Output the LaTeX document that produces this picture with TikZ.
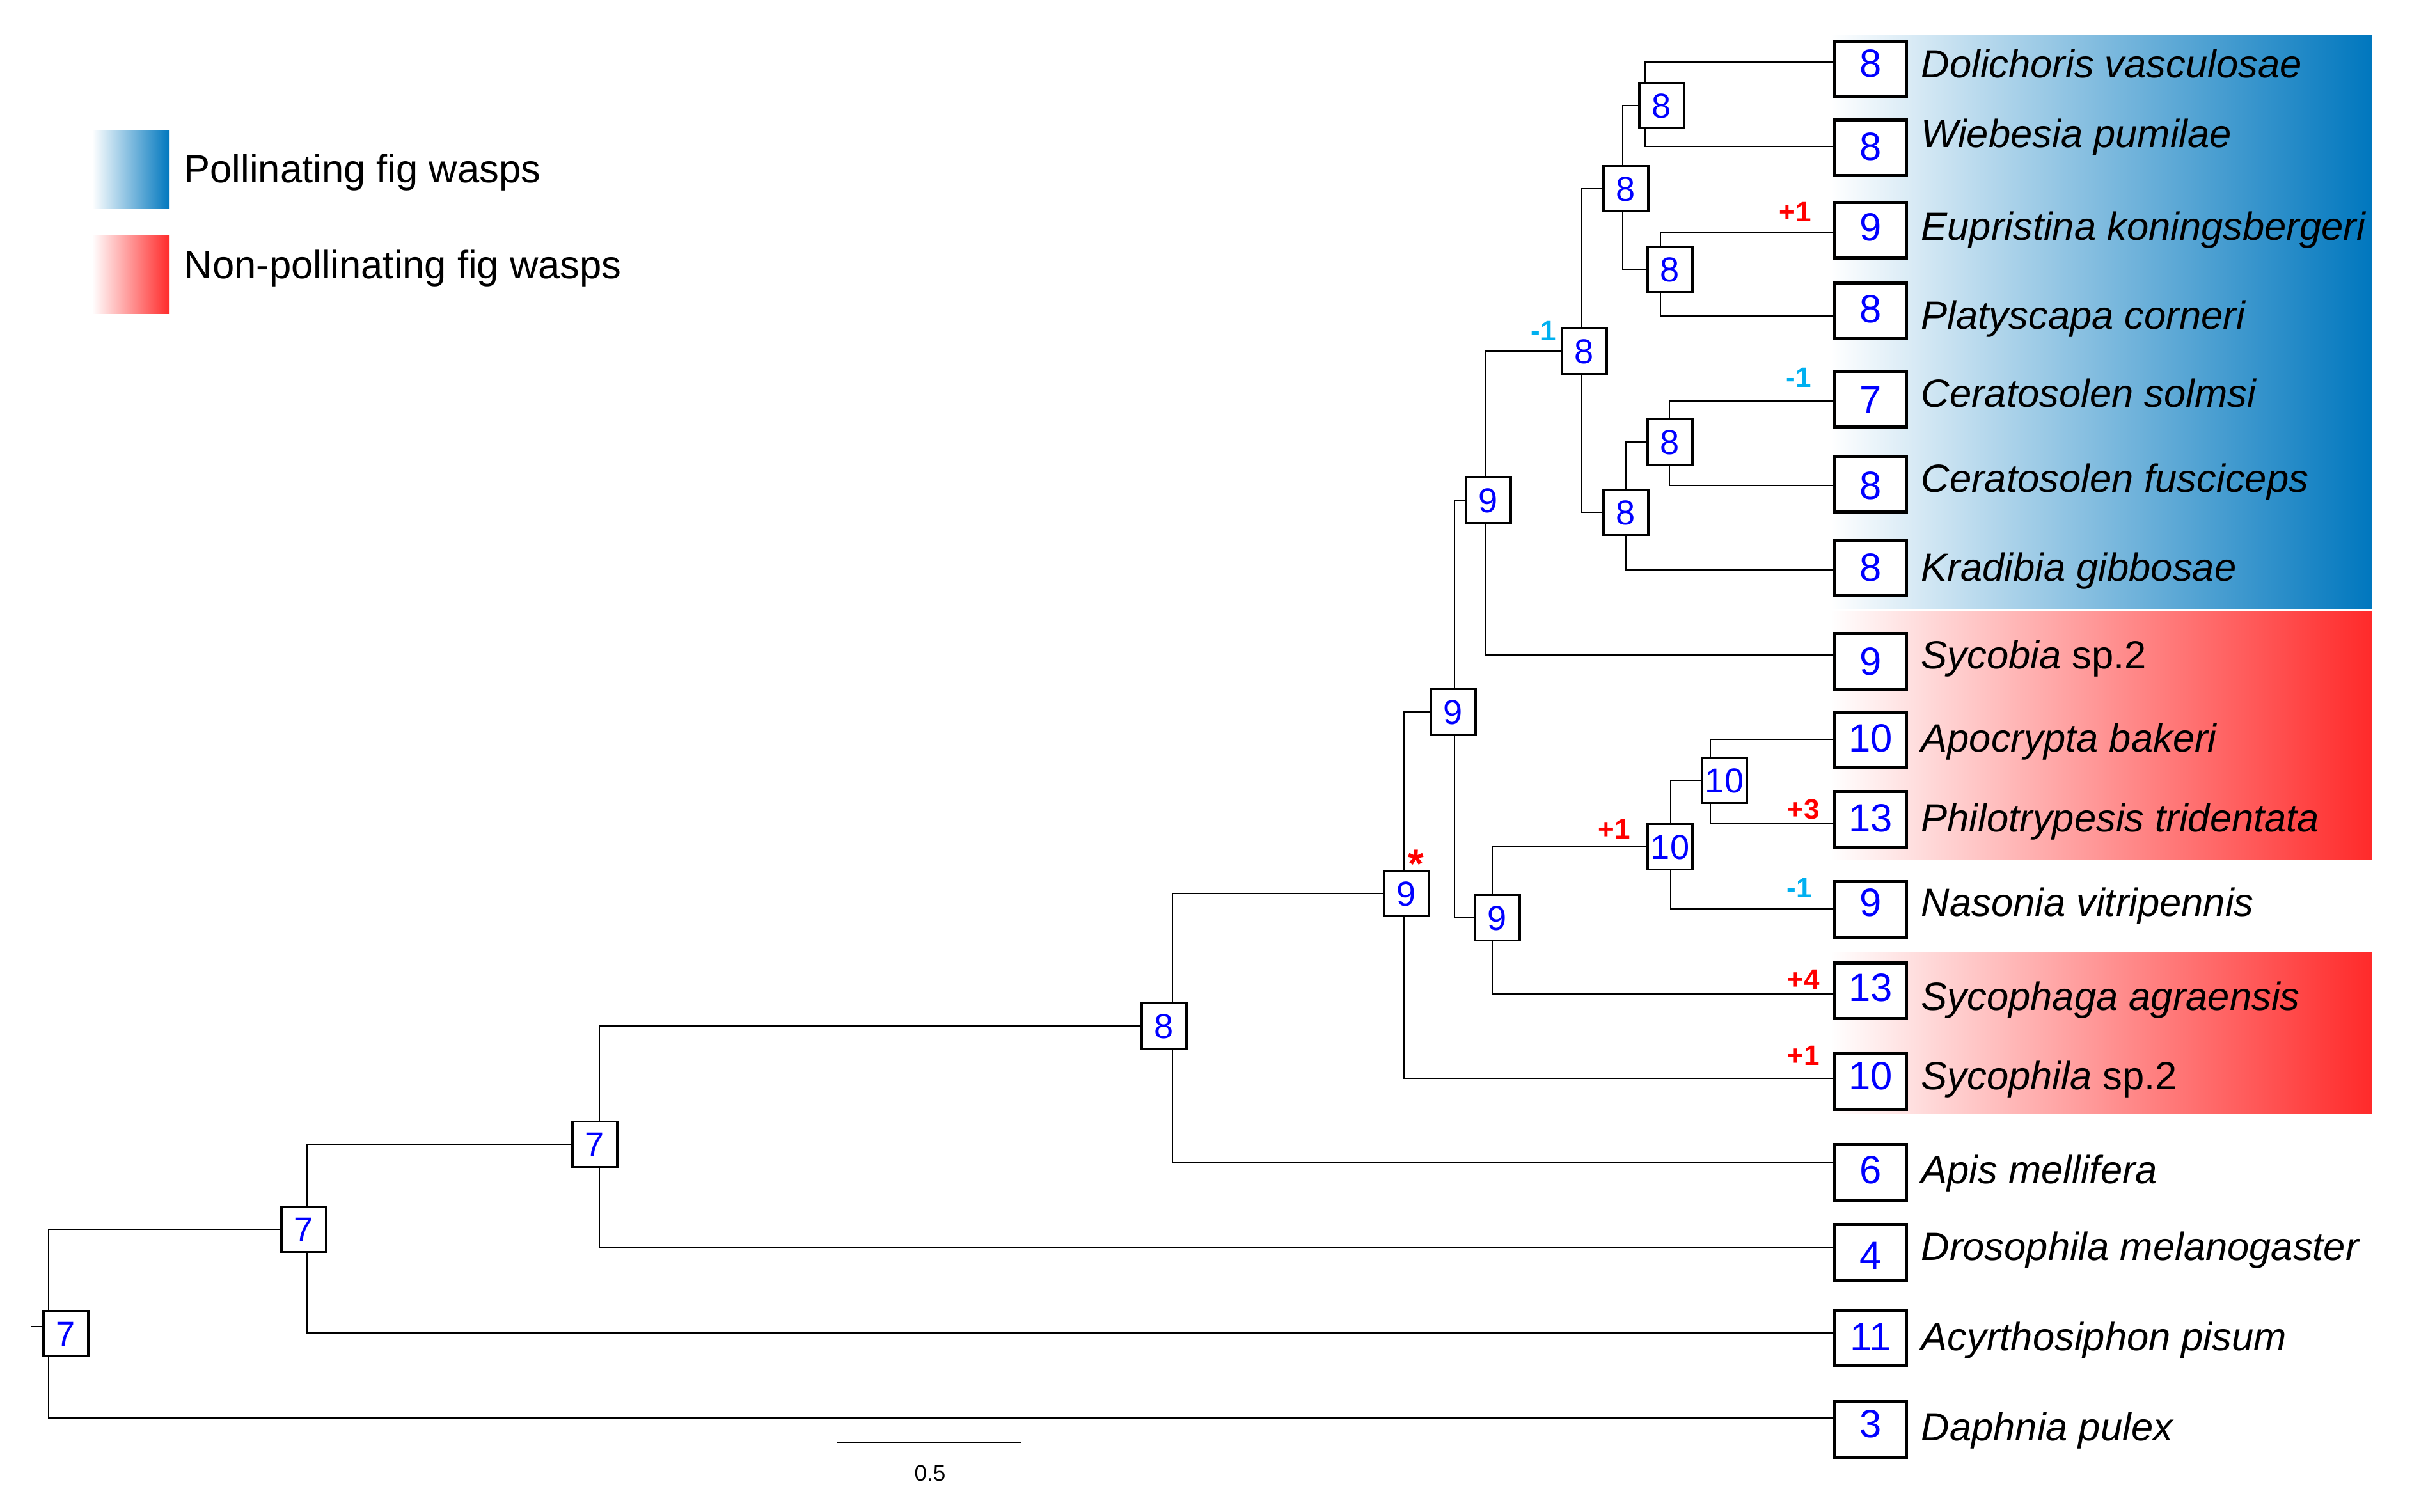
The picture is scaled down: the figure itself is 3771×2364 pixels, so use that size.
\documentclass[tikz,border=0pt]{standalone}
\usepackage{fontspec}
\setmainfont{Liberation Sans}
\pgfdeclarelayer{bands}
\pgfdeclarelayer{edges}
\pgfsetlayers{bands,edges,main}
\definecolor{figblue}{RGB}{0,119,190}
\definecolor{figred}{RGB}{255,42,42}
\definecolor{gaincol}{RGB}{255,0,0}
\definecolor{losscol}{RGB}{0,176,240}
\definecolor{numcol}{RGB}{0,0,255}
\begin{document}
\begin{tikzpicture}[x=0.01cm,y=-0.01cm,
  edge/.style={line width=0.75pt, black},
  inbox/.style={draw, line width=1pt, fill=white, minimum width=0.70cm, minimum height=0.71cm, inner sep=0pt, text=numcol, font=\fontsize{15.4}{16}\selectfont, text height=0.39cm, text depth=0cm},
  leafbox/.style={draw, line width=1.3pt, fill=white, minimum width=1.13cm, minimum height=0.87cm, inner sep=0pt, text=numcol, font=\fontsize{17.5}{18}\selectfont, text depth=0cm},
  taxon/.style={anchor=base west, inner sep=0pt, font=\fontsize{17.5}{18}\selectfont\itshape},
  gain/.style={anchor=base, inner sep=0pt, text=gaincol, font=\fontsize{12.5}{13}\selectfont\bfseries},
  loss/.style={gain, text=losscol},
  legtext/.style={anchor=base west, inner sep=0pt, font=\fontsize{17.5}{18}\selectfont},
]
\useasboundingbox (0,0) rectangle (3771,2364);

% colour bands and legend swatches
\begin{pgfonlayer}{bands}
\shade[left color=white, right color=figblue] (2862,56) rectangle (3708,951);
\shade[left color=white, right color=figred] (2862,956) rectangle (3708,1344);
\shade[left color=white, right color=figred] (2862,1489) rectangle (3708,1741);
\shade[left color=white, right color=figblue] (144,204) rectangle (265,327);
\shade[left color=white, right color=figred] (144,368) rectangle (265,491);
\end{pgfonlayer}
\node[legtext] (legP) at (287,286) {Pollinating fig wasps};
\node[legtext] (legN) at (287,436) {Non-pollinating fig wasps};

% leaf boxes and names: name / box centre / text baseline / digit offset / count / label
\foreach \nm/\yc/\tb/\dob/\cnt/\txt in {
  Dol/108/122/12/8/{Dolichoris vasculosae},
  Wie/231/231/19/8/{Wiebesia pumilae},
  Eup/360/376/16/9/{Eupristina koningsbergeri},
  Pla/486/515/18/8/{Platyscapa corneri},
  Sol/624/637/22/7/{Ceratosolen solmsi},
  Fus/757/770/23/8/{Ceratosolen fusciceps},
  Kra/888/908/20/8/{Kradibia gibbosae},
  Syb/1034/1045/21/9/{Sycobia \upshape sp.2},
  Apo/1157/1175/18/10/{Apocrypta bakeri},
  Phi/1281/1300/19/13/{Philotrypesis tridentata},
  Nas/1422/1432/10/9/{Nasonia vitripennis},
  Sag/1549/1579/16/13/{Sycophaga agraensis},
  Sph/1691/1703/12/10/{Sycophila \upshape sp.2},
  Api/1833/1850/17/6/{Apis mellifera},
  Dro/1958/1970/26/4/{Drosophila melanogaster},
  Acy/2092/2111/19/11/{Acyrthosiphon pisum},
  Dap/2235/2252/12/3/{Daphnia pulex}}{
  \pgfmathsetmacro\thh{\dob*0.02}
  \node[leafbox, text height=\thh cm] (\nm) at (2924.5,\yc) {\cnt};
  \node[taxon] (lab\nm) at (3003,\tb) {\txt};
}

% leaf branch tips
\coordinate (tDol) at (2866,97);
\coordinate (tWie) at (2866,229);
\coordinate (tEup) at (2866,363);
\coordinate (tPla) at (2866,494);
\coordinate (tSol) at (2866,627);
\coordinate (tFus) at (2866,759);
\coordinate (tKra) at (2866,891);
\coordinate (tSyb) at (2866,1024);
\coordinate (tApo) at (2866,1156);
\coordinate (tPhi) at (2866,1288);
\coordinate (tNas) at (2866,1421);
\coordinate (tSag) at (2866,1554);
\coordinate (tSph) at (2866,1686);
\coordinate (tApi) at (2866,1818);
\coordinate (tDro) at (2866,1951);
\coordinate (tAcy) at (2866,2084);
\coordinate (tDap) at (2866,2217);

% internal nodes: box and vertical-line anchor
\node[inbox] (R) at (103,2085) {7};  \coordinate (kR) at (76,2085);
\node[inbox] (A) at (475,1922) {7};  \coordinate (kA) at (480,1922);
\node[inbox] (B) at (930,1789) {7};  \coordinate (kB) at (937,1789);
\node[inbox] (C) at (1820,1604) {8}; \coordinate (kC) at (1833,1604);
\node[inbox] (D) at (2199,1397) {9}; \coordinate (kD) at (2195,1397);
\node[inbox] (E) at (2272,1113) {9}; \coordinate (kE) at (2274,1113);
\node[inbox] (F) at (2327,782) {9};  \coordinate (kF) at (2322,782);
\node[inbox] (H) at (2477,549) {8};  \coordinate (kH) at (2473,549);
\node[inbox] (I) at (2542,295) {8};  \coordinate (kI) at (2537,295);
\node[inbox] (K) at (2598,165) {8};  \coordinate (kK) at (2572,165);
\node[inbox] (L) at (2611,421) {8};  \coordinate (kL) at (2596,421);
\node[inbox] (J) at (2542,801) {8};  \coordinate (kJ) at (2542,801);
\node[inbox] (M) at (2611,691) {8};  \coordinate (kM) at (2610,691);
\node[inbox] (G) at (2341,1435) {9}; \coordinate (kG) at (2333,1435);
\node[inbox] (N) at (2611,1324) {10};\coordinate (kN) at (2612,1324);
\node[inbox] (O) at (2696,1220) {10};\coordinate (kO) at (2674,1220);
\coordinate (stub) at (48,2074);

% branches
\begin{pgfonlayer}{edges}
\draw[edge] (tDol) -| (kK); \draw[edge] (tWie) -| (kK);
\draw[edge] (tEup) -| (kL); \draw[edge] (tPla) -| (kL);
\draw[edge] (K.west) -| (kI); \draw[edge] (L.west) -| (kI);
\draw[edge] (tSol) -| (kM); \draw[edge] (tFus) -| (kM);
\draw[edge] (M.west) -| (kJ); \draw[edge] (tKra) -| (kJ);
\draw[edge] (I.west) -| (kH); \draw[edge] (J.west) -| (kH);
\draw[edge] (H.west) -| (kF); \draw[edge] (tSyb) -| (kF);
\draw[edge] (tApo) -| (kO); \draw[edge] (tPhi) -| (kO);
\draw[edge] (O.west) -| (kN); \draw[edge] (tNas) -| (kN);
\draw[edge] (N.west) -| (kG); \draw[edge] (tSag) -| (kG);
\draw[edge] (F.west) -| (kE); \draw[edge] (G.west) -| (kE);
\draw[edge] (E.west) -| (kD); \draw[edge] (tSph) -| (kD);
\draw[edge] (D.west) -| (kC); \draw[edge] (tApi) -| (kC);
\draw[edge] (C.west) -| (kB); \draw[edge] (tDro) -| (kB);
\draw[edge] (B.west) -| (kA); \draw[edge] (tAcy) -| (kA);
\draw[edge] (A.west) -| (kR); \draw[edge] (tDap) -| (kR);
\draw[edge] (stub) -- (kR |- stub);
\end{pgfonlayer}

% gain / loss labels
\node[loss] (cH) at (2413,533) {-1};
\node[gain] (cEup) at (2807,347) {+1};
\node[loss] (cSol) at (2812,606) {-1};
\node[gain] (cN) at (2524,1311) {+1};
\node[gain] (cPhi) at (2820,1280) {+3};
\node[loss] (cNas) at (2813,1403) {-1};
\node[gain] (cSag) at (2820,1546) {+4};
\node[gain] (cSph) at (2820,1665) {+1};
\node[anchor=base, inner sep=0pt, text=gaincol, text depth=-0.18cm, font=\fontsize{18}{18}\selectfont\bfseries] (star) at (2214,1372) {*};

% scale bar
\coordinate (sbL) at (1309,2255);
\coordinate (sbR) at (1597,2255);
\draw[line width=0.8pt] (sbL) -- (sbR);
\node[anchor=base, inner sep=0pt, font=\fontsize{10}{10}\selectfont] (sblab) at (1454,2315) {0.5};
\end{tikzpicture}
\end{document}
